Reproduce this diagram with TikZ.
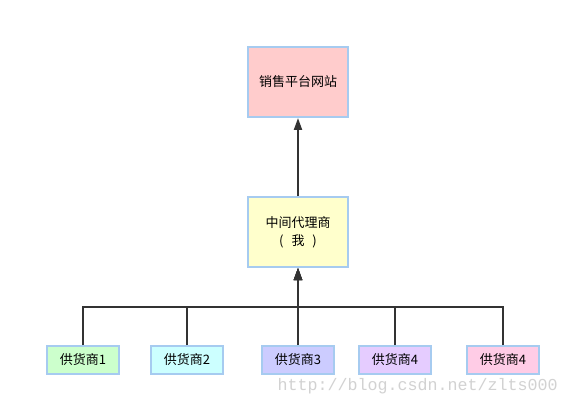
\documentclass[tikz,border=0pt]{standalone}
\usepackage{fontspec}
\setmainfont{Liberation Sans}
\newfontfamily\cjk{Noto Sans CJK SC}
\newfontfamily\wmfont{Liberation Mono}
\usetikzlibrary{arrows.meta}

\definecolor{boxline}{HTML}{A6CBF0}
\definecolor{wirecol}{HTML}{333333}
\definecolor{wmgray}{HTML}{D2D2D2}

\tikzset{
  bigbox/.style={draw=boxline,line width=1.5pt,minimum width=75pt,minimum height=52.5pt,
    inner sep=0,align=center,font=\cjk\fontsize{9.75}{13.5}\selectfont},
  smallbox/.style={draw=boxline,line width=1.5pt,minimum width=54pt,minimum height=21pt,
    inner sep=0,font=\cjk\fontsize{9.75}{12}\selectfont},
  wire/.style={draw=wirecol,line width=1.5pt},
  uparrow/.style={wire,-{Triangle[width=6pt,length=9pt]}}
}

\begin{document}
\begin{tikzpicture}[x=0.75pt,y=-0.75pt]
    \useasboundingbox[fill=white] (0,0) rectangle (570,406);
    % platform and agent
    \node[bigbox,fill={rgb,255:red,255;green,204;blue,204}] (site) at (298,82) {销售平台网站};
    \node[bigbox,fill={rgb,255:red,255;green,255;blue,204}] (agent) at (298,232) {中间代理商\\(\hspace{6pt}我\hspace{6pt})};
    % suppliers
    \node[smallbox,fill={rgb,255:red,204;green,255;blue,204}] (s1) at (83,360) {供货商1};
    \node[smallbox,fill={rgb,255:red,204;green,255;blue,255}] (s2) at (187,360) {供货商2};
    \node[smallbox,fill={rgb,255:red,204;green,204;blue,255}] (s3) at (298,360) {供货商3};
    \node[smallbox,fill={rgb,255:red,229;green,204;blue,255}] (s4) at (395,360) {供货商4};
    \node[smallbox,fill={rgb,255:red,255;green,204;blue,230}] (s5) at (503,360) {供货商4};
    \coordinate (bus) at (298,307);
    % connectors
    \draw[uparrow] (agent.north) -- (site.south);
    \foreach \s in {s1,s2,s4,s5}
        \draw[uparrow] (\s.north) |- (bus) -- (agent.south);
    \draw[uparrow] (s3.north) -- (agent.south);
    % watermark
    \node[text=wmgray,font=\wmfont\fontsize{12.5}{14}\selectfont,anchor=east,inner sep=0] (mark) at (558,386) {http://blog.csdn.net/zlts000};
\end{tikzpicture}
\end{document}
